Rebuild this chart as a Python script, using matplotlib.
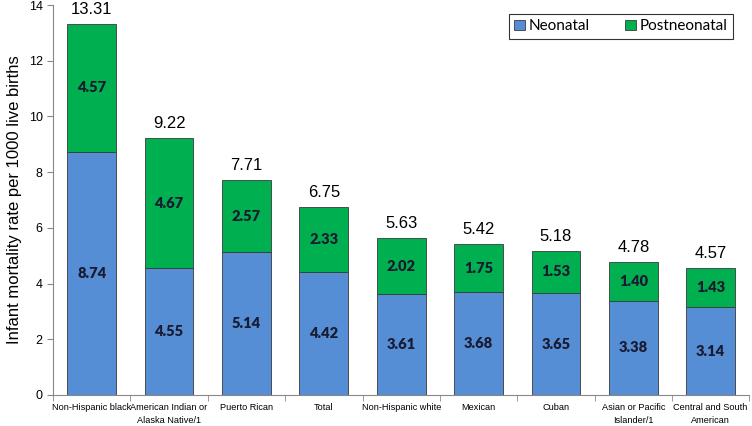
import matplotlib
matplotlib.use('Agg')
import numpy as np
import matplotlib.pyplot as plt

#Chart data
categories = ['Non-Hispanic black', 'American Indian or\nAlaska Native/1', 'Puerto Rican',
              'Total', 'Non-Hispanic white', 'Mexican', 'Cuban',
              'Asian or Pacific\nIslander/1', 'Central and South\nAmerican']
neonatal = [8.74, 4.55, 5.14, 4.42, 3.61, 3.68, 3.65, 3.38, 3.14]
postneonatal = [4.57, 4.67, 2.57, 2.33, 2.02, 1.75, 1.53, 1.40, 1.43]
totals = [13.31, 9.22, 7.71, 6.75, 5.63, 5.42, 5.18, 4.78, 4.57]

blue = '#558ED5'
green = '#00B050'

fig = plt.figure(figsize=(7.52, 4.26), dpi=100)
ax = fig.add_axes([0.0705, 0.073, 0.926, 0.915])

x = np.arange(len(categories))
w = 0.63
ax.bar(x, neonatal, w, color=blue, edgecolor='#3a3a3a', linewidth=0.6, label='Neonatal')
ax.bar(x, postneonatal, w, bottom=neonatal, color=green, edgecolor='#3a3a3a', linewidth=0.6, label='Postneonatal')

#Labels inside the segments and totals on top
for i in range(len(x)):
    ax.text(x[i], neonatal[i]/2, '%.2f' % neonatal[i], ha='center', va='center',
            fontsize=10.5, fontweight='heavy', color='#1a1a30', family='Lato')
    ax.text(x[i], neonatal[i] + postneonatal[i]/2, '%.2f' % postneonatal[i], ha='center', va='center',
            fontsize=10.5, fontweight='heavy', color='#1a1a30', family='Lato')
    ax.text(x[i], neonatal[i] + postneonatal[i] + 0.25, '%.2f' % totals[i], ha='center', va='bottom',
            fontsize=12, color='black', family='Liberation Sans')

ax.set_xlim(-0.5, len(categories) - 0.5)
ax.set_ylim(0, 14)
ax.set_yticks(range(0, 15, 2))
ax.set_xticks(x)
ax.set_xticklabels(categories, fontsize=6.6, family='Liberation Sans', linespacing=1.5)
ax.set_xticks(np.arange(-0.5, len(categories), 1), minor=True)
ax.tick_params(axis='x', which='major', length=0, pad=6)
ax.tick_params(axis='x', which='minor', length=4, color='#888888', direction='out')
ax.tick_params(axis='y', length=4, color='#888888', direction='out', labelsize=9)
for lab in ax.get_yticklabels():
    lab.set_family('Liberation Sans')

ax.set_ylabel('Infant mortality rate per 1000 live births', fontsize=12, family='Liberation Sans', labelpad=5)

for s in ['top', 'right']:
    ax.spines[s].set_visible(False)
for s in ['left', 'bottom']:
    ax.spines[s].set_color('#888888')
    ax.spines[s].set_linewidth(0.8)

leg = ax.legend(loc='upper right', ncol=2, bbox_to_anchor=(0.976, 0.977), fancybox=False,
                edgecolor='black', prop={'family': 'Lato', 'size': 11},
                handlelength=0.7, handleheight=0.7, columnspacing=2.3, handletextpad=0.25,
                borderpad=0.35, borderaxespad=0)
leg.get_frame().set_linewidth(0.8)

fig.savefig('out.png', dpi=100)
